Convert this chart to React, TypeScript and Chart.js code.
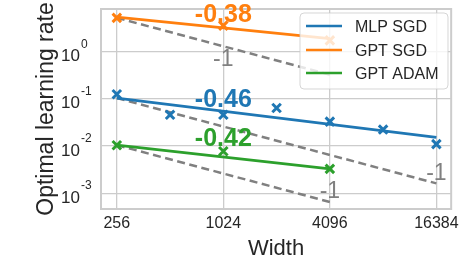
import React, { useEffect, useRef } from "react";
import { Chart, registerables } from "chart.js";

Chart.register(...registerables);

// ---- data ----
const xTicks = [256, 1024, 4096, 16384];
const yTicks = [1e-3, 1e-2, 1e-1, 1];
const yTickExp = ["-3", "-2", "-1", "0"];

const mlpWidths = [256, 512, 1024, 2048, 4096, 8192, 16384];
const mlpSgdLR = [0.125, 0.046, 0.046, 0.064, 0.033, 0.0224, 0.011];
const gptWidths = [256, 1024, 4096];
const gptSgdLR = [5.2, 3.55, 1.73];
const gptAdamLR = [0.0104, 0.0078, 0.0033];

// fitted lines (endpoints)
const mlpFitX = [256, 16384];
const mlpFitY = [0.1035, 0.0153];
const gptSgdFitX = [256, 4096];
const gptSgdFitY = [5.4, 1.88];
const gptAdamFitX = [256, 4096];
const gptAdamFitY = [0.0105, 0.0033];

// slope -1 reference lines
const mlpRefY = [0.104, 0.001625];
const gptSgdRefY = [5.2, 0.325];
const gptAdamRefY = [0.0105, 0.000656];

// annotations
const slopeLabels = ["-0.46", "-0.38", "-0.42"];
const slopeLabelX = [1024, 1024, 1024];
const slopeLabelY = [0.103, 6.6, 0.0153];
const refLabels = ["-1", "-1", "-1"];
const refLabelX = [16384, 1024, 4096];
const refLabelY = [0.00286, 0.73, 0.00121];

const seriesNames = ["MLP SGD", "GPT SGD", "GPT ADAM"];
const seriesColors = ["#1f77b4", "#ff7f0e", "#2ca02c"];

const FONT = "'Liberation Sans', Arial, Helvetica, sans-serif";
const TEXT = "#262626";
const GRID = "#cccccc";
const REF = "#808080";

const pts = (xs: number[], ys: number[]) => xs.map((x, i) => ({ x, y: ys[i] }));

export default function App() {
  const ref = useRef<HTMLCanvasElement | null>(null);

  useEffect(() => {
    const canvas = ref.current;
    if (!canvas) return;

    const markerDs = (label: string, xs: number[], ys: number[], color: string) => ({
      label,
      data: pts(xs, ys),
      showLine: false,
      borderColor: color,
      backgroundColor: color,
      pointStyle: "crossRot",
      pointRadius: 6,
      pointBorderWidth: 3,
      order: 1,
    });
    const fitDs = (label: string, xs: number[], ys: number[], color: string) => ({
      label,
      data: pts(xs, ys),
      showLine: true,
      borderColor: color,
      borderWidth: 2.7,
      pointRadius: 0,
      order: 2,
    });
    const refDs = (label: string, xs: number[], ys: number[]) => ({
      label,
      data: pts(xs, ys),
      showLine: true,
      borderColor: REF,
      borderWidth: 2.5,
      borderDash: [8, 4.5],
      pointRadius: 0,
      order: 3,
    });

    const overlay = {
      id: "overlay",
      beforeDatasetsDraw(chart: any) {
        const { ctx, chartArea: a } = chart;
        ctx.save();
        ctx.strokeStyle = GRID;
        ctx.lineWidth = 2;
        ctx.strokeRect(a.left, a.top, a.right - a.left, a.bottom - a.top);
        ctx.restore();
      },
      afterDatasetsDraw(chart: any) {
        const { ctx, chartArea: a } = chart;
        const xs = chart.scales.x;
        const ys = chart.scales.y;
        ctx.save();
        // slope labels
        ctx.textAlign = "center";
        ctx.textBaseline = "alphabetic";
        ctx.font = `bold 25px ${FONT}`;
        slopeLabels.forEach((t, i) => {
          const px = xs.getPixelForValue(slopeLabelX[i]);
          const py = ys.getPixelForValue(slopeLabelY[i]);
          ctx.fillStyle = seriesColors[i];
          ctx.fillText(t, px, py + 25 * 0.358);
        });
        ctx.font = `23px ${FONT}`;
        ctx.fillStyle = REF;
        refLabels.forEach((t, i) => {
          const px = xs.getPixelForValue(refLabelX[i]);
          const py = ys.getPixelForValue(refLabelY[i]);
          ctx.fillText(t, px, py + 23 * 0.358);
        });

        // y tick labels 10^k
        yTicks.forEach((v, i) => {
          const py = ys.getPixelForValue(v);
          ctx.fillStyle = TEXT;
          ctx.font = `17px ${FONT}`;
          ctx.textAlign = "right";
          ctx.fillText("10", 80, py + 9.5);
          ctx.font = `12px ${FONT}`;
          ctx.textAlign = "left";
          ctx.fillText(yTickExp[i], 81, py - 4);
        });

        // axis titles
        ctx.fillStyle = TEXT;
        ctx.font = `22px ${FONT}`;
        ctx.textAlign = "center";
        ctx.fillText("Width", (a.left + a.right) / 2, 255);
        ctx.save();
        ctx.translate(53, (a.top + a.bottom) / 2);
        ctx.rotate(-Math.PI / 2);
        ctx.font = `23px ${FONT}`;
        ctx.fillText("Optimal learning rate", 0, 0);
        ctx.restore();

        // legend
        const lx = 300, ly = 13, lw = 148, lh = 76, r = 4;
        ctx.beginPath();
        ctx.moveTo(lx + r, ly);
        ctx.arcTo(lx + lw, ly, lx + lw, ly + lh, r);
        ctx.arcTo(lx + lw, ly + lh, lx, ly + lh, r);
        ctx.arcTo(lx, ly + lh, lx, ly, r);
        ctx.arcTo(lx, ly, lx + lw, ly, r);
        ctx.closePath();
        ctx.fillStyle = "rgba(255,255,255,0.8)";
        ctx.fill();
        ctx.strokeStyle = "rgba(204,204,204,0.8)";
        ctx.lineWidth = 1;
        ctx.stroke();
        const rows = [26, 50, 73];
        seriesNames.forEach((n, i) => {
          ctx.strokeStyle = seriesColors[i];
          ctx.lineWidth = 2.7;
          ctx.beginPath();
          ctx.moveTo(306, rows[i]);
          ctx.lineTo(342, rows[i]);
          ctx.stroke();
          ctx.fillStyle = TEXT;
          ctx.font = `16px ${FONT}`;
          ctx.textAlign = "left";
          ctx.fillText(n, 355, rows[i] + 16 * 0.358);
        });
        ctx.restore();
      },
    };

    const chart = new Chart(canvas, {
      type: "line",
      data: {
        datasets: [
          markerDs(seriesNames[0], mlpWidths, mlpSgdLR, seriesColors[0]),
          markerDs(seriesNames[1], gptWidths, gptSgdLR, seriesColors[1]),
          markerDs(seriesNames[2], gptWidths, gptAdamLR, seriesColors[2]),
          fitDs("MLP fit", mlpFitX, mlpFitY, seriesColors[0]),
          fitDs("GPT SGD fit", gptSgdFitX, gptSgdFitY, seriesColors[1]),
          fitDs("GPT ADAM fit", gptAdamFitX, gptAdamFitY, seriesColors[2]),
          refDs("MLP ref", mlpFitX, mlpRefY),
          refDs("GPT SGD ref", gptSgdFitX, gptSgdRefY),
          refDs("GPT ADAM ref", gptAdamFitX, gptAdamRefY),
        ] as any,
      },
      options: {
        responsive: false,
        animation: false,
        devicePixelRatio: 1,
        layout: { padding: { top: 5, right: 8, left: 0, bottom: 0 } },
        plugins: { legend: { display: false }, tooltip: { enabled: false } },
        scales: {
          x: {
            type: "logarithmic",
            min: 208.4,
            max: 19862,
            afterBuildTicks: (s: any) => {
              s.ticks = xTicks.map((v) => ({ value: v }));
            },
            afterFit: (s: any) => {
              s.height = 61;
            },
            ticks: {
              callback: (v: any) => String(v),
              font: { size: 16, family: FONT },
              color: TEXT,
              padding: 5,
              maxRotation: 0,
              autoSkip: false,
            },
            grid: { color: GRID, lineWidth: 1.3, drawTicks: false },
            border: { display: false },
          },
          y: {
            type: "logarithmic",
            min: 4.66e-4,
            max: 8.0,
            afterBuildTicks: (s: any) => {
              s.ticks = yTicks.map((v) => ({ value: v }));
            },
            afterFit: (s: any) => {
              s.width = 101;
            },
            ticks: { display: false },
            grid: { color: GRID, lineWidth: 1.3, drawTicks: false },
            border: { display: false },
          },
        },
      } as any,
      plugins: [overlay],
    });
    return () => chart.destroy();
  }, []);

  return (
    <div style={{ position: "absolute", left: 0, top: 0, width: 464, height: 270, background: "#fff" }}>
      <canvas ref={ref} width={464} height={270} style={{ width: 464, height: 270, display: "block" }} />
    </div>
  );
}
